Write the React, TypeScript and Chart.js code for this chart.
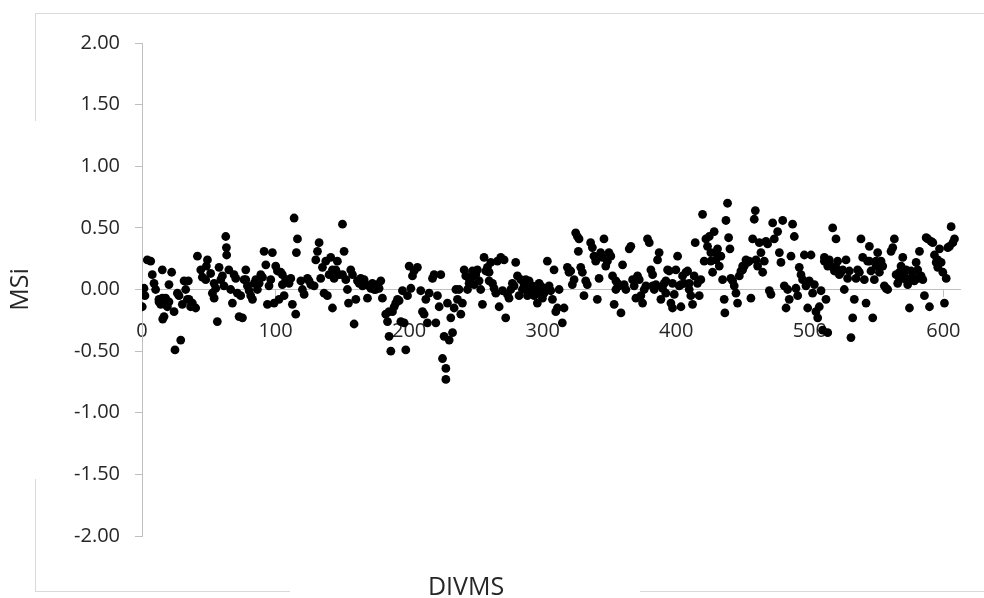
import { useEffect, useRef } from "react";
import { Chart, registerables } from "chart.js";

Chart.register(...registerables);

// Axis tick values
const xTickValues = [0, 100, 200, 300, 400, 500, 600];
const yTickValues = [-2, -1.5, -1, -0.5, 0, 0.5, 1, 1.5, 2];

// Data points [DIVMS, MSi], grouped by range of DIVMS
const seg1: [number, number][] = [
  [0.2,-0.14],[1.5,0.01],[2.2,-0.05],[4,0.24],[6.5,0.23],[7.7,0.12],[9,0.05],[10.2,0],[12.7,-0.08],[12.7,-0.1],
  [14,-0.12],[15.2,0.16],[15.2,-0.07],[15.5,-0.24],[16.5,-0.22],[17.7,-0.07],[17.7,-0.12],[19,-0.14],[20.2,0.04],[20.2,-0.1],
  [22.2,0.14],[24,-0.18],[24.7,-0.49],[26.5,-0.03],[27.7,-0.05],[29,-0.41],[30.2,-0.12],[31.5,0.07],[32.7,0],[34,-0.08],
  [34.7,0.07],[35.2,-0.08],[36.4,-0.14],[37.7,-0.11],[40.2,-0.15],[41.5,0.27],[44,0.16],[45.2,0.1],[47.7,0.08],[48.2,0.19],
  [49,0.24],[51.4,0.13],[52.7,-0.03],[54,-0.07],[54,0.05],[55.2,0.01],[56.4,-0.26],[57.7,0.18],[59,0.08],[60.2,0.11],
  [61.4,0.03],[62.7,0.43],[63.2,0.34],[63.4,0.28],[65,0.16],[66.4,0],[67.7,-0.11],[68.9,0.12],[70.2,0.09],[71.4,-0.03],
  [72.7,-0.22],[73.9,-0.05],[75.2,-0.23],[76.4,0.08],[77.7,0.16],[77.7,0.08],[78.9,0.03],[80.2,-0.01],[81.4,-0.05],[82.7,-0.08],
  [84,0.05],[85.2,0.08],[86.4,0],[87.7,0.05],[88.9,0.12],[90.2,0.1],[91.4,0.31],[92.7,0.2],[93.9,-0.12],[95.1,0.03],
  [96.4,0.08],[97.6,0.3],[98.9,-0.11],[100.1,0.19],[101.4,0.15],[102.6,-0.08],[103.9,0.14],[105.1,0.12],[105.1,0.04],[106.4,-0.05],
  [107.6,0.08],[110.1,0.05],
];

const seg2: [number, number][] = [
  [111.4,0.09],[112.6,-0.12],[113.9,0.58],[115.1,-0.2],[115.6,0.3],[116.4,0.41],[118.9,0.07],[120.1,0],[121.4,-0.04],[123.9,0.09],
  [125.1,0.07],[126.4,0.04],[128.9,0.03],[130.1,0.24],[131.4,0.31],[132.6,0.38],[133.8,0.09],[135.1,0.18],[136.3,-0.03],[137.6,0.23],
  [138.8,-0.05],[140.1,0.12],[141.3,0.26],[142.6,-0.15],[142.6,0.16],[143.8,0.09],[145.1,0.16],[146.3,0.23],[147.6,0.12],[150.1,0.53],
  [150.1,0.12],[151.3,0.31],[152.6,0.08],[153.8,0],[154.6,-0.11],[156.3,0.16],[157.6,0.12],[158.8,-0.28],[160.1,-0.08],[161.3,0.07],
  [162.6,0.05],[163.8,0.09],[165.1,0.03],[166.3,0.08],[167.6,0.04],[168.8,-0.07],[170.1,0.03],[171.3,0.01],[172.5,0.05],[173.8,0],
  [175,0],[176.3,0.04],[177.5,0.01],[178.8,0.07],[180,-0.07],[182.5,-0.2],[183.8,-0.26],[185,-0.38],[185,-0.18],[186.3,-0.5],
  [187.5,-0.18],[188.8,-0.14],[190,-0.11],[191.3,-0.08],[192.5,-0.09],[193.8,-0.26],[195,-0.01],[196.3,-0.27],[197.5,-0.49],[198.8,-0.05],
  [200,0.19],[201.3,0.01],[202.5,0.11],[203.7,0.15],[206.2,0.18],[208.7,-0.01],[210,-0.18],[211.2,-0.2],[212.5,-0.08],[213.7,-0.27],
  [215,-0.03],[217.5,0.09],[218.7,0.12],[220,-0.27],[221.2,-0.05],[222.5,-0.14],[223.7,0.12],[225,-0.56],[226.2,-0.38],[227.5,-0.64],
  [227.5,-0.73],[228.7,-0.11],[230,-0.41],[231.2,-0.23],[232.5,-0.35],[233.7,-0.15],[235,0],[236.2,-0.08],
];

const seg3: [number, number][] = [
  [237.4,0],[238.7,-0.2],[239.9,-0.11],[241.2,0.16],[242.4,0.11],[243.7,0],[244.9,0.05],[244.9,0.09],[246.2,0.09],[247.4,0.15],
  [248.7,0.04],[249.9,0.12],[251.1,0.16],[252.4,0.07],[253.6,0],[254.9,-0.12],[256.1,0.26],[257.4,0.15],[258.6,0.18],[259.9,0.14],
  [259.9,0.07],[261.1,0.22],[262.4,0.05],[263.6,0.01],[264.9,-0.03],[266.1,0.23],[267.4,-0.14],[268.6,0.26],[269.9,-0.01],[271.1,0.24],
  [272.3,-0.23],[273.6,-0.04],[274.8,-0.07],[276.1,0],[277.3,0.05],[278.6,0.03],[279.8,0.22],[281.1,0.11],[282.3,-0.05],[283.6,0.08],
  [284.8,0],[286.1,0.04],[287.3,0.08],[287.3,0],[288.6,-0.05],[289.8,0.07],[291.1,0],[292.3,0.03],[293.6,-0.05],[294.8,0],
  [296,-0.11],[297.3,-0.03],[297.3,0.05],[298.5,0.03],[299.8,-0.07],[301,-0.03],[301,0.01],[302.3,0],[303.5,0.23],[304.8,0.03],
  [306,-0.01],[307.3,-0.08],[308.5,0.16],[309.8,-0.18],[311,-0.15],[312.3,0],[314.7,-0.27],[316,-0.15],[318.5,0.18],[319.7,0.14],
  [321,0.15],[322.2,0.04],[323.5,0.08],[324.7,0.46],[326,0.43],[326.7,0.31],[327.2,0.41],[328.5,0.18],[329.7,0.14],[330.9,-0.05],
  [332.2,0.07],[333.4,0.04],[335.9,0.38],[337.2,0.34],[338.4,0.27],[339.7,0.23],[340.9,-0.08],[342.2,0.09],[343.4,0.3],[344.7,0.26],
  [345.9,0.41],[347.2,0.19],[348.4,0.23],[349.6,0.3],
];

const seg4: [number, number][] = [
  [351,0.27],[352.3,0.11],[353.5,-0.12],[354.8,0],[354.8,0.07],[356,0.05],[357.3,0.03],[358.6,-0.19],[359.8,0.2],[361,0.04],
  [362.3,0],[364.8,0.33],[366,0.35],[367.3,0.08],[368.5,0.03],[369.8,-0.07],[371,0.11],[372.3,0.08],[373.5,-0.05],[374.8,-0.11],
  [376,0],[377.3,0.03],[378.5,0.41],[379.8,0.38],[381,0.16],[382.3,0.12],[382.3,0.03],[383.5,0],[384.8,0.04],[386,0.24],
  [387.2,0.3],[388.5,-0.08],[389.7,0.01],[391,0.05],[392.2,-0.03],[392.2,0.07],[393.5,0.16],[394.7,0.15],[396,-0.11],[397.2,-0.15],
  [397.2,0.05],[398.5,-0.04],[399.7,0.16],[401,0.27],[402.2,0.03],[403.5,-0.14],[403.5,0.04],[404.7,0.11],[406,0.05],[407.2,0.14],
  [408.5,0.15],[409.7,0],[409.7,0.05],[410.9,-0.05],[412.2,-0.12],[413.4,0.11],[414.2,0.38],[415.9,0.05],[417.2,-0.05],[418.4,0.08],
  [419.7,0.61],[420.9,0.23],[422.2,0.41],[423.4,0.35],[424.7,0.43],[425.9,0.3],[425.9,0.23],[427.2,0.14],[428.4,0.47],[429.7,0.24],
  [429.7,0.3],[430.9,0.33],[432.2,0.19],[433.4,0.27],[434.7,0.08],[435.9,-0.08],[436.4,-0.19],[437.2,0.56],[438.4,0.7],[439.2,0.42],
  [440.2,0.33],[440.9,0.09],[442.2,0.07],[443.4,0.03],[444.7,-0.03],[445.9,-0.11],[447.2,0.11],[448.4,0.15],[449.7,0.16],[449.7,0.19],
  [450.9,0.19],[452.2,0.24],[453.4,0.22],[454.6,0.23],[455.9,-0.07],[457.2,0.41],[458.4,0.57],[459.2,0.64],[459.7,0.24],[460.9,0.19],
  [462.2,0.38],[463.4,0.3],[464.7,0.14],[465.9,0.23],[467.2,0.39],[468.4,0.37],[469.7,-0.01],[470.9,-0.04],
];

const seg5: [number, number][] = [
  [472.2,0.54],[473.4,0.41],[475.9,0.47],[477.2,0.3],[478.4,0.22],[479.7,0.56],[480.9,0.03],[482.2,-0.15],[483.4,0],[484.6,-0.08],
  [485.9,0.27],[487.1,0.53],[488.4,0.43],[489.6,0.01],[490.9,-0.05],[492.1,0.18],[493.4,0.12],[494.6,0.08],[495.9,0.28],[497.1,0.03],
  [498.4,-0.15],[499.6,0.07],[500.9,0.28],[502.1,-0.03],[503.4,0.04],[504.6,-0.18],[505.9,-0.23],[507.1,-0.14],[508.4,-0.01],[509.6,-0.33],
  [510.9,0.26],[510.9,0.23],[512.1,-0.08],[513.4,-0.35],[513.4,0.19],[514.6,0.24],[515.9,0.19],[517.1,0.5],[518.4,0.15],[519.6,0.41],
  [519.6,0.18],[520.8,0.23],[522.1,0.12],[523.3,0.14],[524.6,0.16],[525.8,0],[527.1,0.24],[528.3,0.09],[529.6,0.15],[530.8,-0.39],
  [532.1,-0.23],[533.3,-0.08],[534.6,0.09],[535.8,0.16],[537.1,0.14],[538.3,0.41],[539.6,0.26],
];

const seg6: [number, number][] = [
  [540.8,0.08],[542.1,-0.11],[543.3,0.23],[544.6,0.35],[544.6,0.23],[545.8,0.15],[547.1,-0.23],[548.3,0.08],[549.6,0.23],[549.6,0.19],
  [550.8,0.3],[552.1,0.14],[553.3,0.23],[554.6,0.19],[555.8,0.03],[557.1,0.01],[558.3,0],[560.8,0.31],[562.1,0.34],[563.3,0.41],
  [564.6,0.12],[565.8,0.05],[567.1,0.14],[567.1,0.08],[568.3,0.19],[569.6,0.26],[569.6,0.14],[570.8,0.11],[572.1,0.16],[572.1,0.08],
  [573.3,0.04],[574.6,-0.15],[575.8,0.09],[575.8,0.15],[577.1,0.14],[578.3,0.07],[579.6,0.22],[580.8,0.16],[580.8,0.09],[582.1,0.31],
  [583.3,0.11],[584.6,0.08],[585.8,-0.05],[587.1,0.42],[588.3,0.41],[589.6,-0.14],[590.8,0.39],[592.1,0.38],[593.3,0.28],[594.6,0.22],
  [595.8,0.18],[595.8,0.24],[597.1,0.33],[598.3,0.22],[599.6,0.14],[600.8,-0.11],[602.1,0.09],[603.3,0.34],[604.6,0.35],[605.8,0.51],
  [607.1,0.38],[608.3,0.41],
];

const X_TITLE = "DIVMS";
const Y_TITLE = "MSi";
const FONT = '"Open Sans", "DejaVu Sans", sans-serif';
const TEXT_COLOR = "#262626";
const AXIS_COLOR = "#bfbfbf";
const FRAME_COLOR = "#d9d9d9";

export default function App() {
  const ref = useRef<HTMLCanvasElement | null>(null);

  useEffect(() => {
    if (!ref.current) return;
    const points = [...seg1, ...seg2, ...seg3, ...seg4, ...seg5, ...seg6].map(([x, y]) => ({ x, y }));

    const framePlugin = {
      id: "frame",
      beforeDraw(chart: any) {
        const ctx = chart.ctx;
        ctx.save();
        ctx.strokeStyle = FRAME_COLOR;
        ctx.lineWidth = 1;
        ctx.beginPath();
        // top
        ctx.moveTo(35, 13.5);
        ctx.lineTo(984, 13.5);
        // left (broken around the y title)
        ctx.moveTo(35.5, 13);
        ctx.lineTo(35.5, 121);
        ctx.moveTo(35.5, 479);
        ctx.lineTo(35.5, 592);
        // bottom (broken around the x title)
        ctx.moveTo(35, 591.5);
        ctx.lineTo(290, 591.5);
        ctx.moveTo(640, 591.5);
        ctx.lineTo(984, 591.5);
        ctx.stroke();
        ctx.restore();
      },
      afterDraw(chart: any) {
        const ctx = chart.ctx;
        ctx.save();
        ctx.fillStyle = TEXT_COLOR;
        ctx.font = `25px ${FONT}`;
        ctx.textAlign = "center";
        ctx.textBaseline = "alphabetic";
        ctx.fillText(X_TITLE, 466, 595);
        ctx.restore();
      },
    };

    const chart = new Chart(ref.current, {
      type: "scatter",
      data: {
        datasets: [
          {
            data: points,
            pointRadius: 4.4,
            pointHoverRadius: 4.4,
            pointBorderWidth: 0,
            pointBackgroundColor: "#000000",
            backgroundColor: "#000000",
            borderColor: "#000000",
          },
        ],
      },
      options: {
        animation: false,
        responsive: false,
        maintainAspectRatio: false,
        layout: { padding: { left: 0, right: 22, top: 43, bottom: 62 } },
        plugins: {
          legend: { display: false },
          tooltip: { enabled: false },
        },
        scales: {
          x: {
            type: "linear",
            position: { y: 0 } as any,
            min: 0,
            max: 613,
            afterBuildTicks: (s: any) => {
              s.ticks = xTickValues.map((v) => ({ value: v }));
            },
            afterFit: (s: any) => {
              s.height = 0;
            },
            grid: { drawOnChartArea: false, drawTicks: true, tickLength: 7, color: AXIS_COLOR },
            border: { display: true, color: AXIS_COLOR, width: 1 },
            ticks: {
              padding: 23,
              autoSkip: false,
              maxRotation: 0,
              color: TEXT_COLOR,
              font: { family: FONT, size: 20 },
              callback: (v: any) => String(v),
            },
          },
          y: {
            type: "linear",
            min: -2,
            max: 2,
            afterBuildTicks: (s: any) => {
              s.ticks = yTickValues.map((v) => ({ value: v }));
            },
            afterFit: (s: any) => {
              s.width = 142;
            },
            grid: { drawOnChartArea: false, drawTicks: true, tickLength: 7, color: AXIS_COLOR },
            border: { display: true, color: AXIS_COLOR, width: 1 },
            ticks: {
              padding: 15,
              color: TEXT_COLOR,
              font: { family: FONT, size: 20 },
              callback: (v: any) => Number(v).toFixed(2),
            },
            title: {
              display: true,
              text: Y_TITLE,
              color: TEXT_COLOR,
              font: { family: FONT, size: 25 },
              padding: { top: 6, bottom: 0 },
            },
          },
        },
      },
      plugins: [framePlugin],
    });

    return () => chart.destroy();
  }, []);

  return (
    <div style={{ position: "fixed", left: 0, top: 0, width: 984, height: 598, background: "#ffffff" }}>
      <canvas ref={ref} width={984} height={598} style={{ display: "block", width: 984, height: 598 }} />
    </div>
  );
}
